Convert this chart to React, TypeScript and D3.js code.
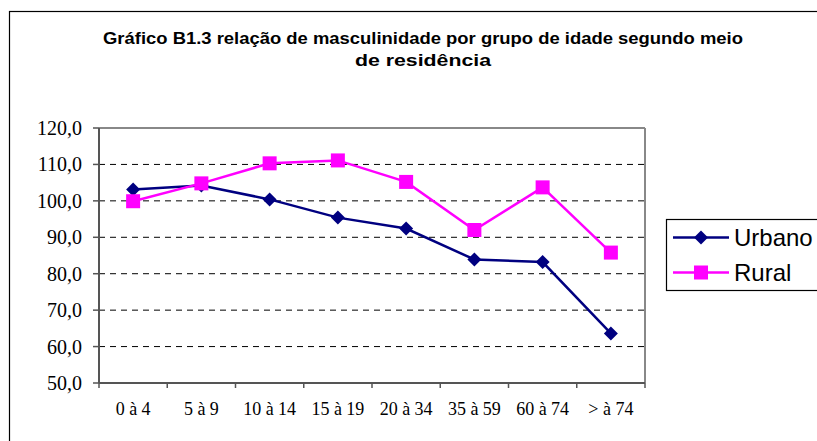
import React from "react";
import * as d3 from "d3";

const categories = ["0 à 4", "5 à 9", "10 à 14", "15 à 19", "20 à 34", "35 à 59", "60 à 74", "> à 74"];
const urbano = [103.1, 104.2, 100.4, 95.4, 92.4, 83.9, 83.2, 63.6];
const rural = [99.9, 104.8, 110.3, 111.1, 105.2, 92.0, 103.7, 85.8];
const yTicks = [50, 60, 70, 80, 90, 100, 110, 120];
const titleLines = [
  "Gráfico B1.3 relação de masculinidade por grupo de idade segundo meio",
  "de residência",
];
const seriesNames = ["Urbano", "Rural"];

const W = 817;
const H = 441;
const plot = { left: 99, right: 645, top: 128, bottom: 383 };

export default function App() {
  const x = d3
    .scaleBand<string>()
    .domain(categories)
    .range([plot.left, plot.right])
    .paddingInner(0)
    .paddingOuter(0);
  const y = d3.scaleLinear().domain([50, 120]).range([plot.bottom, plot.top]);
  const cx = (c: string) => (x(c) as number) + x.bandwidth() / 2;

  const line = d3
    .line<number>()
    .x((_, i) => cx(categories[i]))
    .y((d) => y(d));

  const fmt = (v: number) => v.toFixed(1).replace(".", ",");
  const diamond = (px: number, py: number, r: number) =>
    `M${px},${py - r}L${px + r},${py}L${px},${py + r}L${px - r},${py}Z`;

  const tickXs = categories.map((c) => x(c) as number).concat([plot.right]);

  return (
    <svg
      width={W}
      height={H}
      style={{ position: "absolute", left: 0, top: 0, background: "#fff" }}
    >
      <rect x={0} y={0} width={W} height={H} fill="#fff" />
      {/* outer frame */}
      <rect x={9.5} y={11.5} width={W + 20} height={H + 20} fill="none" stroke="#000" strokeWidth={1.2} />

      {/* title */}
      {titleLines.map((t, i) => (
        <text
          key={i}
          x={423}
          y={44 + i * 22}
          textAnchor="middle"
          fontFamily="Liberation Sans, Arial, sans-serif"
          fontWeight="bold"
          fontSize={17}
          fill="#000"
          textLength={i === 0 ? 640 : 136}
          lengthAdjust="spacingAndGlyphs"
        >
          {t}
        </text>
      ))}

      {/* gridlines */}
      {yTicks
        .filter((v) => v > 50 && v < 120)
        .map((v) => (
          <line
            key={v}
            x1={plot.left}
            x2={plot.right}
            y1={y(v)}
            y2={y(v)}
            stroke="#000"
            strokeWidth={1}
            strokeDasharray="6,5"
          />
        ))}

      {/* plot frame top/right */}
      <line x1={plot.left} x2={plot.right} y1={plot.top} y2={plot.top} stroke="#888" strokeWidth={2} />
      <line x1={plot.right} x2={plot.right} y1={plot.top} y2={plot.bottom} stroke="#888" strokeWidth={2} />

      {/* axes */}
      <line x1={plot.left} x2={plot.left} y1={plot.top} y2={plot.bottom} stroke="#555" strokeWidth={2} />
      <line x1={plot.left} x2={plot.right} y1={plot.bottom} y2={plot.bottom} stroke="#555" strokeWidth={2} />

      {/* y ticks & labels */}
      {yTicks.map((v) => (
        <g key={v}>
          <line x1={plot.left - 6} x2={plot.left} y1={y(v)} y2={y(v)} stroke="#555" strokeWidth={1.5} />
          <text
            x={82}
            y={y(v) + 7}
            textAnchor="end"
            fontFamily="Liberation Serif, Times New Roman, serif"
            fontSize={20}
            fill="#000"
          >
            {fmt(v)}
          </text>
        </g>
      ))}

      {/* x ticks & labels */}
      {tickXs.map((tx, i) => (
        <line key={i} x1={tx} x2={tx} y1={plot.bottom} y2={plot.bottom + 5} stroke="#555" strokeWidth={1.5} />
      ))}
      {categories.map((c) => (
        <text
          key={c}
          x={cx(c)}
          y={415}
          textAnchor="middle"
          fontFamily="Liberation Serif, Times New Roman, serif"
          fontSize={18}
          fill="#000"
        >
          {c}
        </text>
      ))}

      {/* Urbano */}
      <path d={line(urbano) || ""} fill="none" stroke="#000080" strokeWidth={2.5} />
      {urbano.map((v, i) => (
        <path key={i} d={diamond(cx(categories[i]), y(v), 7)} fill="#000080" />
      ))}

      {/* Rural */}
      <path d={line(rural) || ""} fill="none" stroke="#FF00FF" strokeWidth={2.5} />
      {rural.map((v, i) => (
        <rect key={i} x={cx(categories[i]) - 7} y={y(v) - 7} width={14} height={14} fill="#FF00FF" />
      ))}

      {/* legend */}
      <rect x={666.5} y={219.5} width={170} height={71} fill="#fff" stroke="#000" strokeWidth={1.2} />
      <line x1={673} x2={729} y1={237.5} y2={237.5} stroke="#000080" strokeWidth={2.5} />
      <path d={diamond(701, 237.5, 7)} fill="#000080" />
      <line x1={673} x2={729} y1={272.5} y2={272.5} stroke="#FF00FF" strokeWidth={2.5} />
      <rect x={694} y={265.5} width={14} height={14} fill="#FF00FF" />
      {seriesNames.map((n, i) => (
        <text
          key={n}
          x={734}
          y={246 + i * 35}
          fontFamily="Liberation Sans, Arial, sans-serif"
          fontSize={24}
          fill="#000"
        >
          {n}
        </text>
      ))}
    </svg>
  );
}
